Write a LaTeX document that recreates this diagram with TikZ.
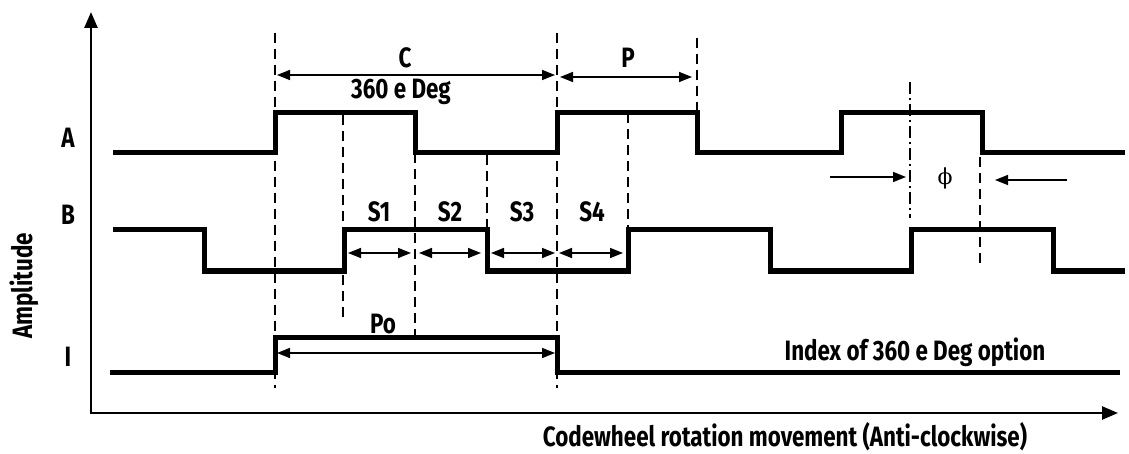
\documentclass[tikz,border=0pt]{standalone}
\usepackage{fontspec}
\setmainfont{Fira Sans}[FakeStretch=0.8]
\newfontfamily\phifont{DejaVu Serif}
\usetikzlibrary{arrows.meta}
\begin{document}
\begin{tikzpicture}[x=1pt,y=-1pt,
  sig/.style={line width=5pt,line join=miter},
  axis/.style={line width=2.5pt,{Triangle[length=16pt,width=13pt]}-{Triangle[length=16pt,width=13pt]}},
  guide/.style={line width=2pt,dash pattern=on 10pt off 6pt},
  guidedot/.style={line width=2pt,dash pattern=on 12pt off 4pt on 2pt off 4pt},
  dim/.style={line width=1.5pt,{Triangle[length=13pt,width=10pt]}-{Triangle[length=13pt,width=10pt]}},
  onearrow/.style={line width=1.5pt,-{Triangle[length=13pt,width=10pt]}},
  lbl/.style={font=\fontsize{28}{32}\selectfont\bfseries,inner sep=0pt}]
\useasboundingbox (0,0) rectangle (1129,454);
% axes
\coordinate (ytop) at (91,12);
\coordinate (orig) at (91,413);
\coordinate (xend) at (1118,413);
\draw[axis] (ytop) -- (orig) -- (xend);
% guides
\draw[guide] (275,33) -- (275,388);
\draw[guide] (557,33) -- (557,388);
\draw[guide] (697,38) -- (697,113);
\draw[guide] (343,115) -- (343,323);
\draw[guide] (415,153) -- (415,335);
\draw[guide] (487,155) -- (487,230);
\draw[guide] (628,113) -- (628,230);
\draw[guidedot] (910,82) -- (910,218);
\draw[guide] (980,157) -- (980,265);
% signals
\draw[sig] (113,153) -- (275,153) -- (275,113) -- (415,113) -- (415,153) -- (557,153) -- (557,113) -- (697,113) -- (697,153) -- (841,153) -- (841,113) -- (982,113) -- (982,153) -- (1125,153);
\draw[sig] (113,230) -- (204,230) -- (204,271) -- (344,271) -- (344,230) -- (487,230) -- (487,271) -- (628,271) -- (628,230) -- (770,230) -- (770,271) -- (911,271) -- (911,230) -- (1053,230) -- (1053,271) -- (1125,271);
\draw[sig] (110,372) -- (275,372) -- (275,337) -- (557,337) -- (557,372) -- (1120,372);
% dimension arrows
\coordinate (c1) at (277,75); \coordinate (c2) at (555,75);
\draw[dim] (c1) -- (c2);
\coordinate (p1) at (560,77); \coordinate (p2) at (692,77);
\draw[dim] (p1) -- (p2);
\draw[dim] (348,253) -- (411,253);
\draw[dim] (419,253) -- (481,253);
\draw[dim] (491,253) -- (555,253);
\draw[dim] (559,253) -- (623,253);
\draw[dim] (277,353) -- (555,353);
\draw[onearrow] (830,177) -- (906,177);
\draw[onearrow] (1067,180) -- (995,180);
% labels
\node[lbl] (lC) at (405,58) {C};
\node[lbl] (lDeg) at (401,92) {360 e Deg};
\node[lbl] (lP) at (628,58) {P};
\node[lbl] (lS1) at (379,212) {S1};
\node[lbl] (lS2) at (450,212) {S2};
\node[lbl] (lS3) at (522,212) {S3};
\node[lbl] (lS4) at (592,212) {S4};
\node[lbl] (lPo) at (383,324) {Po};
\node[lbl] (lA) at (68,138) {A};
\node[lbl] (lB) at (68,215) {B};
\node[lbl] (lI) at (68,357) {I};
\node[lbl,rotate=90] (lAmp) at (24,286) {Amplitude};
\node[lbl] (lIdx) at (915,352) {Index of 360 e Deg option};
\node[lbl] (lX) at (785,437) {Codewheel rotation movement (Anti-clockwise)};
\node[inner sep=0pt,font=\phifont\fontsize{22}{24}\selectfont] (lphi) at (945,178) {ϕ};
\end{tikzpicture}
\end{document}
